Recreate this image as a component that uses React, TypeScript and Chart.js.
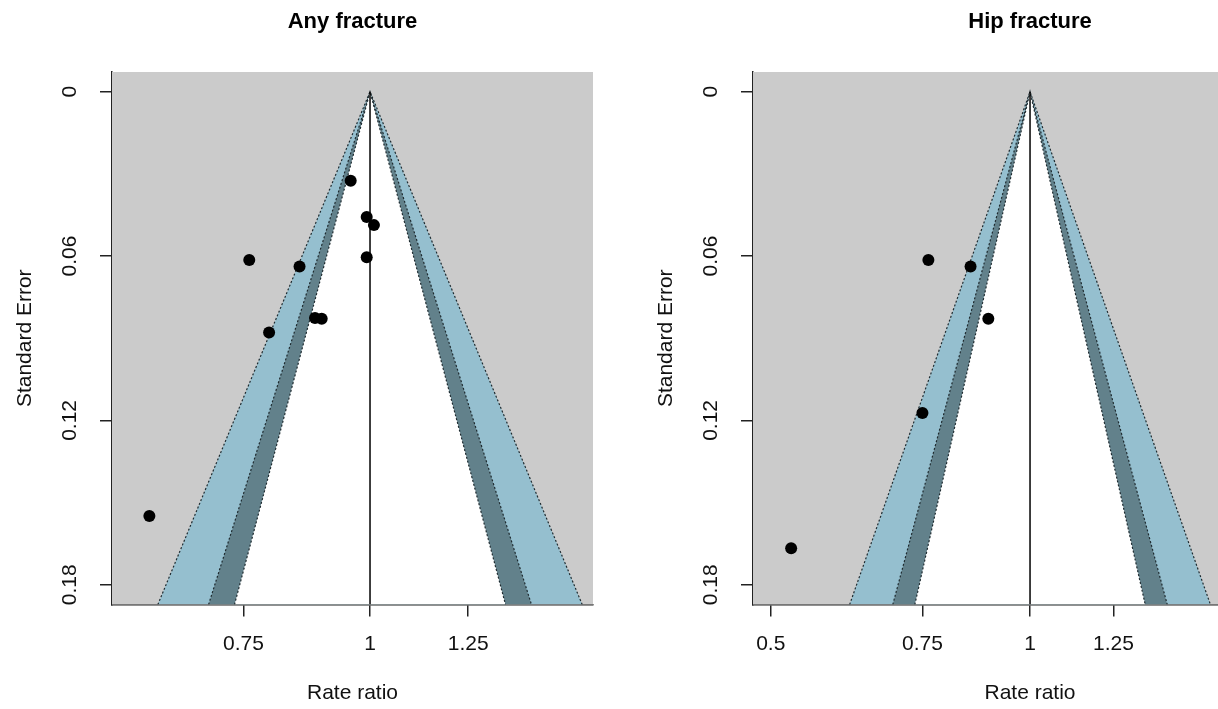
import React, { useEffect, useRef } from "react";
import { Chart, registerables } from "chart.js";

Chart.register(...registerables);

// ---------- Data: "Any fracture" panel ----------
const anyTitle = "Any fracture";
const anyRateRatio = [0.957, 0.9925, 1.009, 0.9925, 0.76, 0.852, 0.8825, 0.896, 0.795, 0.6056];
const anyStdError = [0.0325, 0.0457, 0.0487, 0.0604, 0.0614, 0.0638, 0.0826, 0.0829, 0.0879, 0.1549];
const anyXTickValues = [0.75, 1, 1.25];
const anyXTickLabels = ["0.75", "1", "1.25"];
const anyXRange = [0.5563, 1.66];

// ---------- Data: "Hip fracture" panel ----------
const hipTitle = "Hip fracture";
const hipRateRatio = [0.762, 0.853, 0.8945, 0.75, 0.528];
const hipStdError = [0.0614, 0.0638, 0.0829, 0.1173, 0.1667];
const hipXTickValues = [0.5, 0.75, 1, 1.25];
const hipXTickLabels = ["0.5", "0.75", "1", "1.25"];
const hipXRange = [0.4768, 2.097];

// ---------- Shared axis / contour settings ----------
const seTickValues = [0, 0.06, 0.12, 0.18];
const seTickLabels = ["0", "0.06", "0.12", "0.18"];
const seRange = [-0.0072, 0.1872];
const contourZ = [2.576, 1.96, 1.645];
const contourFill = ["#95bfcf", "#62818b", "#ffffff"];

const FONT = "'Liberation Sans', Arial, Helvetica, sans-serif";
const PLOT_BG = "#cbcbcb";
const AXIS_COLOR = "#222";
const LABEL_SIZE = 21;

const plotBackground = {
  id: "plotBackground",
  beforeDatasetsDraw(chart: any) {
    const { ctx, chartArea } = chart;
    ctx.save();
    ctx.fillStyle = PLOT_BG;
    ctx.fillRect(chartArea.left, chartArea.top, chartArea.right - chartArea.left, chartArea.bottom - chartArea.top);
    ctx.restore();
  },
};

type PanelProps = {
  left: number;
  width: number;
  title: string;
  rr: number[];
  se: number[];
  xTicks: number[];
  xLabels: string[];
  xRange: number[];
};

function FunnelPanel({ left, width, title, rr, se, xTicks, xLabels, xRange }: PanelProps) {
  const ref = useRef<HTMLCanvasElement>(null);

  useEffect(() => {
    if (!ref.current) return;
    const yMax = seRange[1];
    const contourSets = contourZ.map((z, i) => ({
      type: "line",
      data: [
        { x: -z * yMax, y: yMax },
        { x: 0, y: 0 },
        { x: z * yMax, y: yMax },
      ],
      backgroundColor: contourFill[i],
      borderColor: "#1f2b30",
      borderWidth: 1.2,
      borderDash: [2, 2],
      fill: { value: yMax },
      pointRadius: 0,
      tension: 0,
      order: 10 - i,
    }));

    const chart = new Chart(ref.current, {
      type: "scatter",
      data: {
        datasets: [
          {
            type: "scatter",
            data: rr.map((r, i) => ({ x: Math.log(r), y: se[i] })),
            backgroundColor: "#000",
            borderWidth: 0,
            pointRadius: 6,
            order: 0,
          },
          {
            type: "line",
            data: [
              { x: 0, y: 0 },
              { x: 0, y: yMax },
            ],
            borderColor: "#000",
            borderWidth: 1.5,
            pointRadius: 0,
            fill: false,
            order: 1,
          },
          ...contourSets,
        ] as any,
      },
      options: {
        responsive: false,
        animation: false,
        events: [],
        layout: { padding: { left: 0, right: 16, top: 0, bottom: 0 } },
        plugins: {
          legend: { display: false },
          tooltip: { enabled: false },
          title: {
            display: true,
            text: title,
            fullSize: false,
            color: "#000",
            font: { family: FONT, size: 22, weight: "bold" },
            padding: { top: 9, bottom: 36.6 },
          },
        },
        scales: {
          x: {
            type: "linear",
            min: Math.log(xRange[0]),
            max: Math.log(xRange[1]),
            z: 1,
            afterBuildTicks: (s: any) => {
              s.ticks = xTicks.map((v) => ({ value: Math.log(v) }));
            },
            afterFit: (s: any) => {
              s.height = 104.5;
            },
            ticks: {
              autoSkip: false,
              minRotation: 0,
              maxRotation: 0,
              padding: 15.5,
              color: "#111",
              font: { family: FONT, size: LABEL_SIZE },
              callback: (_v: any, i: number) => xLabels[i],
            },
            grid: {
              display: true,
              drawOnChartArea: false,
              drawTicks: true,
              tickLength: 12,
              color: AXIS_COLOR,
              lineWidth: 1.5,
            },
            border: { display: true, color: AXIS_COLOR, width: 1.5 },
            title: {
              display: true,
              text: "Rate ratio",
              color: "#111",
              font: { family: FONT, size: LABEL_SIZE },
              padding: { top: 0, bottom: 3.5 },
            },
          },
          y: {
            type: "linear",
            reverse: true,
            min: seRange[0],
            max: seRange[1],
            z: 1,
            afterBuildTicks: (s: any) => {
              s.ticks = seTickValues.map((v) => ({ value: v }));
            },
            afterFit: (s: any) => {
              s.width = 112;
            },
            ticks: {
              autoSkip: false,
              minRotation: 90,
              maxRotation: 90,
              crossAlign: "center",
              padding: 9.5,
              color: "#111",
              font: { family: FONT, size: LABEL_SIZE },
              callback: (_v: any, i: number) => seTickLabels[i],
            },
            grid: {
              display: true,
              drawOnChartArea: false,
              drawTicks: true,
              tickLength: 12,
              color: AXIS_COLOR,
              lineWidth: 1.5,
            },
            border: { display: true, color: AXIS_COLOR, width: 1.5 },
            title: {
              display: true,
              text: "Standard Error",
              color: "#111",
              font: { family: FONT, size: LABEL_SIZE },
              padding: { top: 12.4, bottom: 0 },
            },
          },
        },
      } as any,
      plugins: [plotBackground],
    });
    return () => chart.destroy();
  }, []);

  return (
    <canvas
      ref={ref}
      width={width}
      height={709}
      style={{ position: "absolute", left, top: 0, width, height: 709 }}
    />
  );
}

export default function App() {
  return (
    <div
      style={{
        position: "fixed",
        left: 0,
        top: 0,
        width: 1218,
        height: 709,
        overflow: "hidden",
        background: "#fff",
      }}
    >
      <FunnelPanel
        left={0}
        width={609}
        title={anyTitle}
        rr={anyRateRatio}
        se={anyStdError}
        xTicks={anyXTickValues}
        xLabels={anyXTickLabels}
        xRange={anyXRange}
      />
      <FunnelPanel
        left={641}
        width={682}
        title={hipTitle}
        rr={hipRateRatio}
        se={hipStdError}
        xTicks={hipXTickValues}
        xLabels={hipXTickLabels}
        xRange={hipXRange}
      />
    </div>
  );
}
